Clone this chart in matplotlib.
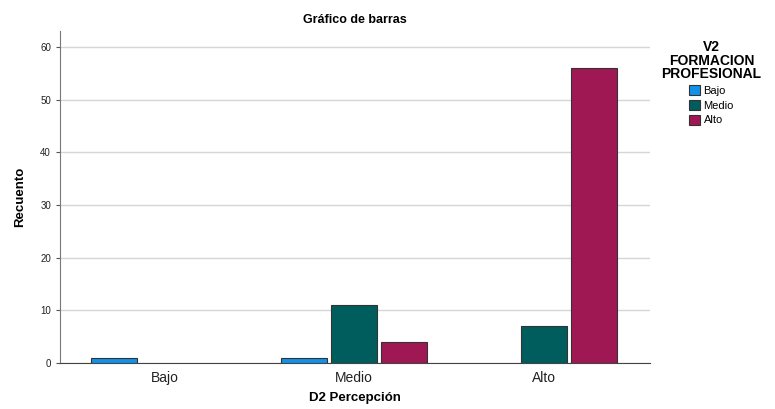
import matplotlib
matplotlib.use("Agg")
import matplotlib.pyplot as plt
import numpy as np
from matplotlib.patches import Patch

plt.rcParams["font.family"] = ["Liberation Sans", "DejaVu Sans"]

categories = ["Bajo", "Medio", "Alto"]
series_names = ["Bajo", "Medio", "Alto"]
counts = {
    "Bajo": [1, 1, 0],
    "Medio": [0, 11, 7],
    "Alto": [0, 4, 56],
}
colors = ["#1192e8", "#005d5d", "#9f1853"]

fig = plt.figure(figsize=(7.75, 4.09), dpi=100)
ax = fig.add_axes([0.0774, 0.1125, 0.7613, 0.8115])

x = np.arange(len(categories))
width = 0.242
offset = 0.263
for i, (name, col) in enumerate(zip(series_names, colors)):
    vals = np.array(counts[name], dtype=float)
    mask = vals > 0
    ax.bar(x[mask] + (i - 1) * offset, vals[mask], width=width, color=col,
           edgecolor="#333333", linewidth=0.8, zorder=3)

ax.set_xlim(-0.55, 2.56)
ax.set_ylim(0, 63)
ax.set_yticks(range(0, 61, 10))
ax.set_xticks(x)
ax.set_xticklabels(categories, fontsize=10, color="#222222")
ax.tick_params(axis="y", labelsize=7, length=3, color="#555555", labelcolor="#222222")
ax.tick_params(axis="x", length=0, pad=6)
ax.yaxis.grid(True, color="#d6d6d6", linewidth=1, zorder=0)
for s in ("top", "right"):
    ax.spines[s].set_visible(False)
ax.spines["left"].set_color("#777777")
ax.spines["bottom"].set_color("#444444")

ax.set_title("Gráfico de barras", fontsize=9, fontweight="bold", pad=6)
ax.set_xlabel("D2 Percepción", fontsize=9.5, fontweight="bold", labelpad=5)
ax.set_ylabel("Recuento", fontsize=9.5, fontweight="bold", labelpad=10)

handles = [Patch(facecolor=c, edgecolor="#333333", linewidth=0.8) for c in colors]
leg = fig.legend(handles, series_names, title="V2\nFORMACION\nPROFESIONAL",
                 loc="upper center", bbox_to_anchor=(0.918, 0.912), frameon=False,
                 fontsize=8, handlelength=1.0, handleheight=1.0,
                 handletextpad=0.3, labelspacing=0.35, borderaxespad=0)
leg.get_title().set_fontweight("bold")
leg.get_title().set_fontsize(10)
leg.get_title().set_linespacing(0.95)
leg.get_title().set_multialignment("center")

fig.savefig("out.png", dpi=100)
